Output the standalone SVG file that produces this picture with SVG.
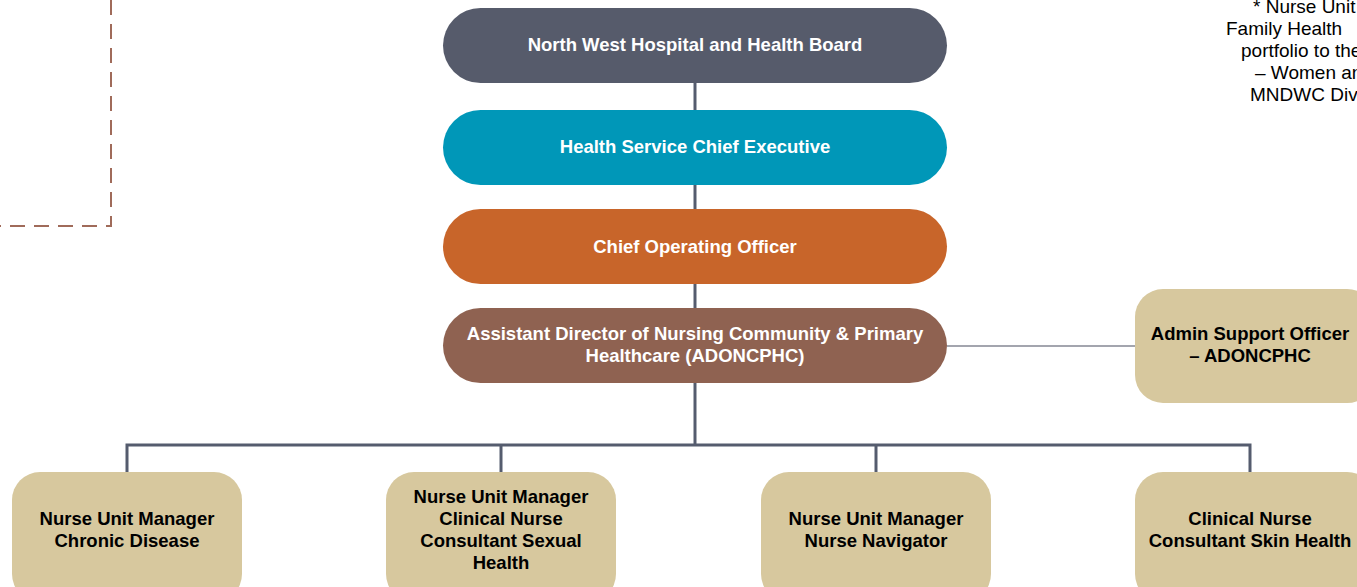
<svg xmlns="http://www.w3.org/2000/svg" width="1357" height="587" viewBox="0 0 1357 587">
<style>
.lbl{font-family:"Liberation Sans",Arial,sans-serif;font-weight:bold;font-size:18.5px;text-anchor:middle}
.w{fill:#ffffff}
.k{fill:#000000}
.note{font-family:"Liberation Sans",Arial,sans-serif;font-size:19px;fill:#000000}
.conn{stroke:#555C6E;stroke-width:3;fill:none}
.tan{fill:#D7C89E}
</style>
<rect width="1357" height="587" fill="#ffffff"/>
<g id="dashed-box">
<path d="M111,0 V226 H0" fill="none" stroke="#A06B5A" stroke-width="2" stroke-dasharray="15 9"/>
</g>
<g id="note">
<text class="note" x="1253" y="13">* Nurse Unit</text>
<text class="note" x="1226" y="35">Family Health</text>
<text class="note" x="1241" y="57">portfolio to the</text>
<text class="note" x="1255" y="79">– Women and</text>
<text class="note" x="1250" y="101">MNDWC Divi</text>
</g>
<g id="connectors">
<line class="conn" x1="695" y1="83" x2="695" y2="110"/>
<line class="conn" x1="695" y1="185" x2="695" y2="209"/>
<line class="conn" x1="695" y1="284" x2="695" y2="308"/>
<line class="conn" x1="695" y1="383" x2="695" y2="445"/>
<path class="conn" d="M127,472 V445 H1250 V472"/>
<line class="conn" x1="501" y1="445" x2="501" y2="472"/>
<line class="conn" x1="876" y1="445" x2="876" y2="472"/>
<line x1="947" y1="346" x2="1135" y2="346" stroke="#A3A5AE" stroke-width="2"/>
</g>
<g id="board">
<rect x="443" y="8" width="504" height="75" rx="37.5" fill="#565B6B"/>
<text class="lbl w" x="695" y="51">North West Hospital and Health Board</text>
</g>
<g id="chief-executive">
<rect x="443" y="110" width="504" height="75" rx="37.5" fill="#0097B8"/>
<text class="lbl w" x="695" y="153">Health Service Chief Executive</text>
</g>
<g id="coo">
<rect x="443" y="209" width="504" height="75" rx="37.5" fill="#C8652A"/>
<text class="lbl w" x="695" y="253">Chief Operating Officer</text>
</g>
<g id="adoncphc">
<rect x="443" y="308" width="504" height="75" rx="37.5" fill="#8F6251"/>
<text class="lbl w" x="695" y="340">Assistant Director of Nursing Community &amp; Primary</text>
<text class="lbl w" x="695" y="362">Healthcare (ADONCPHC)</text>
</g>
<g id="admin-support">
<rect class="tan" x="1135" y="289" width="240" height="114" rx="28"/>
<text class="lbl k" x="1250" y="340">Admin Support Officer</text>
<text class="lbl k" x="1250" y="362">– ADONCPHC</text>
</g>
<g id="num-chronic">
<rect class="tan" x="12" y="472" width="230" height="130" rx="28"/>
<text class="lbl k" x="127" y="525">Nurse Unit Manager</text>
<text class="lbl k" x="127" y="547">Chronic Disease</text>
</g>
<g id="num-sexual-health">
<rect class="tan" x="386" y="472" width="230" height="130" rx="28"/>
<text class="lbl k" x="501" y="503">Nurse Unit Manager</text>
<text class="lbl k" x="501" y="525">Clinical Nurse</text>
<text class="lbl k" x="501" y="547">Consultant Sexual</text>
<text class="lbl k" x="501" y="569">Health</text>
</g>
<g id="num-navigator">
<rect class="tan" x="761" y="472" width="230" height="130" rx="28"/>
<text class="lbl k" x="876" y="525">Nurse Unit Manager</text>
<text class="lbl k" x="876" y="547">Nurse Navigator</text>
</g>
<g id="cnc-skin">
<rect class="tan" x="1135" y="472" width="240" height="130" rx="28"/>
<text class="lbl k" x="1250" y="525">Clinical Nurse</text>
<text class="lbl k" x="1250" y="547">Consultant Skin Health</text>
</g>
</svg>
